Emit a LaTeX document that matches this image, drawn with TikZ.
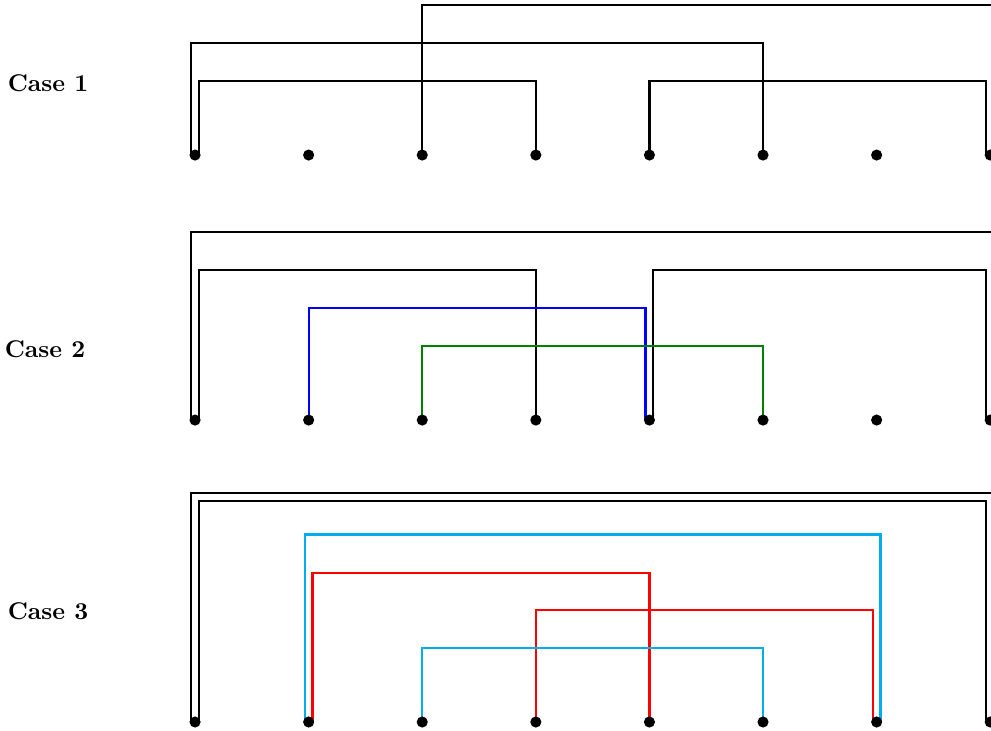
\documentclass[tikz,border=0pt]{standalone}
\usepackage{tikz}
\usepackage{xcolor}
\def\off{1.6pt}

\begin{document}
\begin{tikzpicture}[x=1.65cm,y=1.65cm,
  every node/.style={align=center},
  dot/.style={circle,fill=black,inner sep=0pt,minimum size=4.6pt},
  link/.style={line width=0.9pt,line join=miter}
]
\useasboundingbox (-1.717,-0.079) rectangle (7.007,6.356);
\node[font=\bfseries] (case1) at (-1.294,5.625) {Case 1};
\node[font=\bfseries] (case2) at (-1.32,3.283) {Case 2};
\node[font=\bfseries] (case3) at (-1.294,0.977) {Case 3};
\foreach \i in {1,...,8} {
  \coordinate (a\i) at (\i-1,4.991);
  \coordinate (b\i) at (\i-1,2.658);
  \coordinate (c\i) at (\i-1,0);
}
% Case 1
\draw[link] (a3) -- ++(0,1.321) -| ([xshift=\off]a8);
\draw[link] ([xshift=-\off]a1) -- ++(0,0.986) -| (a6);
\draw[link] ([xshift=\off]a1) -- ++(0,0.651) -| (a4);
\draw[link] (a5) -- ++(0,0.651) -| ([xshift=-\off]a8);
% Case 2
\draw[link] ([xshift=-\off]b1) -- ++(0,1.655) -| ([xshift=\off]b8);
\draw[link] ([xshift=\off]b1) -- ++(0,1.321) -| (b4);
\draw[link] ([xshift=\off]b5) -- ++(0,1.321) -| ([xshift=-\off]b8);
\draw[link,blue] (b2) -- ++(0,0.986) -| ([xshift=-\off]b5);
\draw[link,green!50!black] (b3) -- ++(0,0.651) -| (b6);
% Case 3
\draw[link] ([xshift=-\off]c1) -- ++(0,2.016) -| ([xshift=\off]c8);
\draw[link] ([xshift=\off]c1) -- ++(0,1.945) -| ([xshift=-\off]c8);
\draw[link,cyan] ([xshift=-\off]c2) -- ++(0,1.650) -| ([xshift=\off]c7);
\draw[link,red] ([xshift=\off]c2) -- ++(0,1.315) -| (c5);
\draw[link,red] (c4) -- ++(0,0.986) -| ([xshift=-\off]c7);
\draw[link,cyan] (c3) -- ++(0,0.651) -| (c6);
% points
\foreach \r in {a,b,c}
  \foreach \i in {1,...,8}
    \node[dot] (p\r\i) at (\r\i) {};
\end{tikzpicture}
\end{document}
